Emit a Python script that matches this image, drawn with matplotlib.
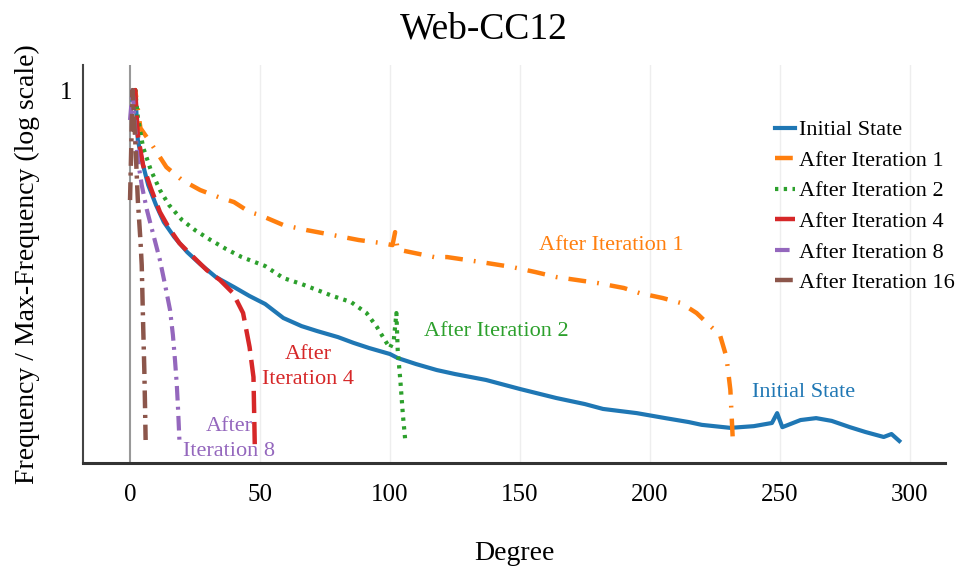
import matplotlib.pyplot as plt

plt.rcParams['font.family'] = ['Liberation Serif', 'DejaVu Serif']

# ---- data ----
init_x = [1, 2, 3, 5, 7, 10, 13, 17, 22, 27, 33, 40, 46, 52, 59, 66, 72, 80, 86, 92,
          100, 103, 110, 118, 125, 137, 150, 164, 175, 182, 195, 206, 215, 220, 231,
          240, 247, 249, 251, 258, 264, 270, 277, 283, 290, 293, 296]
init_y = [0.763, 1.0, 0.258, 0.131, 0.0763, 0.0444, 0.028, 0.0187, 0.0124, 0.00897,
          0.00631, 0.00481, 0.00377, 0.00304, 0.00208, 0.00167, 0.00146, 0.00124,
          0.00106, 0.000922, 0.000784, 0.000703, 0.000598, 0.000508, 0.000456,
          0.000388, 0.000304, 0.000238, 0.000202, 0.000177, 0.000158, 0.000138,
          0.000124, 0.000115, 0.000106, 0.000111, 0.000121, 0.000158, 0.000108,
          0.000131, 0.000138, 0.000128, 0.000108, 0.0000947, 0.0000828, 0.0000897,
          0.0000743]

it1_x = [1, 2, 4, 8, 14, 20, 27, 34, 40, 46, 50, 59, 68, 78, 88, 97, 101, 102, 103,
         104, 117, 122, 135, 147, 156, 164, 172, 180, 190, 196, 205, 212, 218, 222,
         227, 229.5, 231, 232]
it1_y = [0.763, 1.0, 0.357, 0.238, 0.124, 0.0873, 0.0666, 0.0551, 0.0481, 0.0367,
         0.0338, 0.0258, 0.0225, 0.0197, 0.0172, 0.0158, 0.0150, 0.0213, 0.0131,
         0.0131, 0.01084, 0.01084, 0.00947, 0.00828, 0.00722, 0.00631, 0.00582,
         0.00536, 0.00469, 0.00409, 0.00357, 0.00312, 0.00238, 0.00182, 0.00131,
         0.000722, 0.000296, 0.0000703]

it2_x = [1, 2, 3, 5, 8, 11.5, 15, 20, 25, 31, 37, 43, 52, 59, 66, 72, 78, 85, 91, 95,
         98, 100, 101.5, 102.5, 103, 104, 105, 106]
it2_y = [0.763, 1.0, 0.481, 0.2135, 0.1145, 0.0666, 0.0444, 0.0296, 0.0225, 0.0172,
         0.01346, 0.01084, 0.0085, 0.00614, 0.00522, 0.00444, 0.00377, 0.00321,
         0.00238, 0.00163, 0.00115, 0.000922, 0.00115, 0.00238, 0.000873, 0.000388,
         0.000150, 0.0000703]

it4_x = [1, 2, 3, 5, 8, 11.5, 15, 19, 24, 29.5, 34.6, 39.6, 43.5, 46, 47.5, 48]
it4_y = [0.873, 1.0, 0.296, 0.131, 0.0703, 0.0367, 0.0238, 0.0158, 0.01114, 0.00763,
         0.00582, 0.00409, 0.00238, 0.000947, 0.000420, 0.0000666]

it8_x = [0, 1, 2, 3, 4.5, 6.5, 9, 11.5, 13.5, 15.4, 16.5, 17.3, 18, 18.5, 19]
it8_y = [0.444, 1.0, 0.338, 0.150, 0.0763, 0.0388, 0.0197, 0.0100, 0.00508, 0.00258,
         0.00131, 0.000666, 0.000339, 0.000172, 0.0000763]

it16_x = [0, 1, 2, 3, 4, 4.5, 5, 5.5, 5.8, 6]
it16_y = [0.0508, 1.0, 0.258, 0.0508, 0.0172, 0.00874, 0.00197, 0.000508, 0.000172,
          0.0000763]

fig = plt.figure(figsize=(9.68, 5.66), dpi=100)
ax = fig.add_axes([0.086, 0.182, 0.89, 0.703])

# grid first so lines sit on top
for gx in [50, 100, 150, 200, 250, 300]:
    ax.axvline(gx, color='#eeeeee', lw=1, zorder=0)
ax.axvline(0, color='#999999', lw=1.5, zorder=0)

ax.plot(init_x, init_y, color='#1f77b4', lw=3.0, label='Initial State')
ax.plot(it1_x, it1_y, color='#ff7f0e', lw=3.2, dashes=(4, 2.5, 0.4, 2.5), label='After Iteration 1')
ax.plot(it2_x, it2_y, color='#2ca02c', lw=3.0, dashes=(0.8, 1.3), label='After Iteration 2')
ax.plot(it4_x, it4_y, color='#d62728', lw=3.2, dashes=(5, 2), label='After Iteration 4')
ax.plot(it8_x, it8_y, color='#9467bd', lw=3.0, dashes=(3.5, 1.5, 0.7, 1.5), label='After Iteration 8')
ax.plot(it16_x, it16_y, color='#8c564b', lw=3.2, dashes=(4, 1.5, 0.7, 1.5), label='After Iteration 16')

# in-plot labels
ax.text(185, 0.0150, 'After Iteration 1', color='#ff7f0e', fontsize=16, ha='center', va='center')
ax.text(141, 0.00146, 'After Iteration 2', color='#2ca02c', fontsize=16, ha='center', va='center')
ax.text(259, 0.00028, 'Initial State', color='#1f77b4', fontsize=16, ha='center', va='center')
ax.text(68.5, 0.00055, 'After\nIteration 4', color='#d62728', fontsize=16, ha='center', va='center',
        linespacing=1.4)
ax.text(38, 0.000078, 'After\nIteration 8', color='#9467bd', fontsize=16, ha='center', va='center',
        linespacing=1.4)

ax.set_yscale('log')
ax.set_xlim(-18, 313.5)
ax.set_ylim(10 ** -4.388, 10 ** 0.294)
ax.set_xticks([0, 50, 100, 150, 200, 250, 300])
ax.set_yticks([1])
ax.set_yticklabels(['1'])
ax.minorticks_off()
ax.tick_params(axis='x', length=0, pad=15, labelsize=18)
ax.tick_params(axis='y', length=0, pad=8, labelsize=18)

for s in ['top', 'right']:
    ax.spines[s].set_visible(False)
ax.spines['left'].set_color('#444444')
ax.spines['left'].set_linewidth(1.5)
ax.spines['bottom'].set_color('#333333')
ax.spines['bottom'].set_linewidth(2.2)

fig.text(0.5, 0.948, 'Web-CC12', fontsize=27, ha='center', va='center')
ax.set_xlabel('Degree', fontsize=20, labelpad=25)
ax.set_ylabel('Frequency / Max-Frequency (log scale)', fontsize=20, labelpad=14)

ax.legend(loc='upper right', bbox_to_anchor=(1.022, 0.885), frameon=False, fontsize=16,
          handlelength=0.9, handletextpad=0.2, labelspacing=0.45, borderaxespad=0)

fig.savefig('out.png', dpi=100)
